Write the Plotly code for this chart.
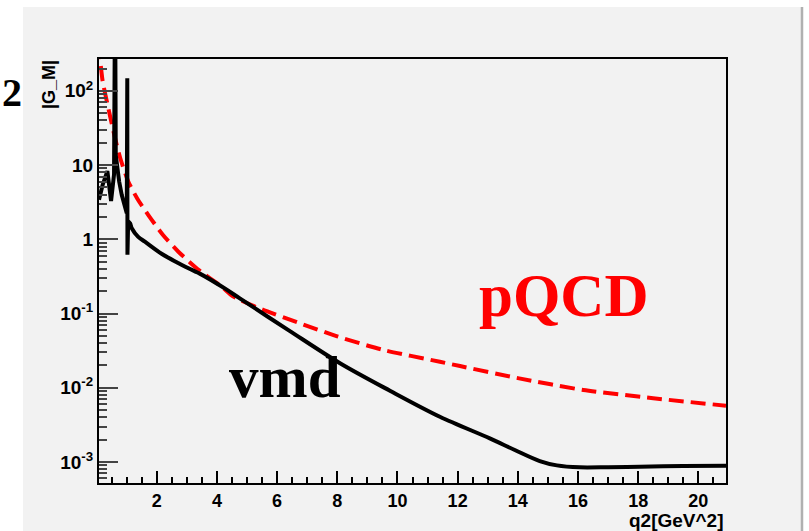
import plotly.graph_objects as go

# ---- data ----
vmd_q2 = [0.08, 0.2, 0.358, 0.481, 0.58, 0.614, 0.637, 0.67, 0.75, 0.837, 0.92, 1.003,
          1.02, 1.026, 1.05, 1.113, 1.169, 1.383, 1.605, 2.16, 2.71, 3.27, 3.43, 4.26,
          4.76, 6.4, 8.09, 9.75, 11.41, 13.07, 13.9, 14.73, 15.3, 16.06, 17.0, 18.05,
          19.5, 20.92]
vmd_gm = [3.4, 5.4, 8.3, 3.27, 7.5, 3000, 13.7, 10.0, 6.0, 3.95, 2.9, 2.24,
          148, 0.62, 1.75, 1.64, 1.41, 1.08, 0.93, 0.64, 0.48, 0.37, 0.345, 0.218,
          0.160, 0.0589, 0.0214, 0.00912, 0.00407, 0.00208, 0.00145, 0.00103, 0.00090,
          0.000847, 0.000851, 0.000865, 0.000880, 0.000891]
vmd_split = 14  # resonance region (straight segments) / smooth continuum

pqcd_q2 = [0.08, 0.116, 0.2, 0.392, 0.614, 0.8, 1.056, 1.35, 1.72, 2.2, 2.718, 3.4,
           4.16, 4.546, 5.5, 6.76, 8.0, 9.53, 11.41, 12.08, 14.0, 16.18, 18.5, 20.92]
pqcd_gm = [424, 272, 136, 58, 23, 11.9, 5.97, 3.55, 2.12, 1.15, 0.68, 0.385,
           0.23, 0.169, 0.1135, 0.0738, 0.0492, 0.0323, 0.0224, 0.0196, 0.0135,
           0.00933, 0.00723, 0.00573]

x_tickvals = [2, 4, 6, 8, 10, 12, 14, 16, 18, 20]
y_tickvals = [1e-3, 1e-2, 1e-1, 1, 10, 100]
y_ticktext = ["10<sup>-3</sup>", "10<sup>-2</sup>", "10<sup>-1</sup>", "1", "10", "10<sup>2</sup>"]

# ---- layout geometry (pixels) ----
W, H = 809, 531
L, R, T, B = 99, 726, 59, 483
PW, PH = R - L, B - T


def px(x):
    return (x - L) / PW


def py(y):
    return (B - y) / PH


BG = "#f2f2f2"

fig = go.Figure()
fig.add_trace(go.Scatter(x=pqcd_q2, y=pqcd_gm, mode="lines",
                         line=dict(color="#ff0000", width=4, dash="15px,7px", shape="spline", smoothing=0.6),
                         hoverinfo="skip", showlegend=False))
fig.add_trace(go.Scatter(x=vmd_q2[:vmd_split + 1], y=vmd_gm[:vmd_split + 1], mode="lines",
                         line=dict(color="#000000", width=4),
                         hoverinfo="skip", showlegend=False))
fig.add_trace(go.Scatter(x=vmd_q2[vmd_split:], y=vmd_gm[vmd_split:], mode="lines",
                         line=dict(color="#000000", width=4, shape="spline", smoothing=0.9),
                         hoverinfo="skip", showlegend=False))

minor_y = [m * 10 ** e for e in range(-4, 3) for m in range(2, 10)]
minor_y = [v for v in minor_y if 5.2e-4 < v < 266]
minor_x = [0.5 * k for k in range(1, 42)]

tickfont = dict(family="Liberation Sans, Arial", size=18, color="black", weight="bold")

fig.update_layout(
    width=W, height=H,
    margin=dict(l=L, r=W - R, t=T, b=H - B, pad=0),
    paper_bgcolor="white",
    plot_bgcolor=BG,
    xaxis=dict(range=[0.08, 20.92], showgrid=False, zeroline=False,
               showline=True, linecolor="black", linewidth=2, mirror=True,
               tickmode="array", tickvals=x_tickvals, ticks="inside", ticklen=12,
               tickwidth=1.5, tickcolor="black", tickfont=tickfont,
               minor=dict(tickmode="array", tickvals=minor_x, ticks="inside",
                          ticklen=6, tickwidth=1.5, tickcolor="black")),
    yaxis=dict(type="log", range=[-3.283, 2.429], showgrid=False, zeroline=False,
               showline=True, linecolor="black", linewidth=2, mirror=True,
               tickmode="array", tickvals=y_tickvals, ticktext=y_ticktext,
               ticks="inside", ticklen=19, tickwidth=1.5, tickcolor="#444",
               tickfont=dict(family="Liberation Sans, Arial", size=19, color="black", weight="bold"),
               minor=dict(tickmode="array", tickvals=minor_y, ticks="inside",
                          ticklen=8, tickwidth=1.5, tickcolor="#444")),
    shapes=[
        dict(type="rect", xref="paper", yref="paper", layer="below",
             x0=px(23), x1=px(802), y0=py(7), y1=py(H + 2),
             fillcolor=BG, line=dict(width=0)),
        dict(type="line", xref="paper", yref="paper", layer="below",
             x0=px(802), x1=px(802), y0=py(7), y1=py(H + 2),
             line=dict(color="#b0b0b0", width=2.5)),
    ],
    annotations=[
        dict(text="<b>2</b>", xref="paper", yref="paper", x=px(12), y=py(92),
             xanchor="center", yanchor="middle", showarrow=False,
             font=dict(family="Liberation Serif, Times New Roman", size=40, color="black", weight="bold")),
        dict(text="|G_M|", xref="paper", yref="paper", x=px(49), y=py(85),
             xanchor="center", yanchor="middle", textangle=-90, showarrow=False,
             font=dict(family="Liberation Sans, Arial", size=18, color="black", weight="bold")),
        dict(text="q2[GeV^2]", xref="paper", yref="paper", x=px(726), y=py(533),
             xanchor="right", yanchor="bottom", showarrow=False,
             font=dict(family="Liberation Sans, Arial", size=19, color="black", weight="bold")),
        dict(text="pQCD", xref="paper", yref="paper", x=px(563), y=py(295),
             xanchor="center", yanchor="middle", showarrow=False,
             font=dict(family="Liberation Serif, Times New Roman", size=61, color="#ff0000", weight="bold")),
        dict(text="vmd", xref="paper", yref="paper", x=px(285), y=py(377),
             xanchor="center", yanchor="middle", showarrow=False,
             font=dict(family="Liberation Serif, Times New Roman", size=59, color="black", weight="bold")),
    ],
)

fig.write_html("out.html")
